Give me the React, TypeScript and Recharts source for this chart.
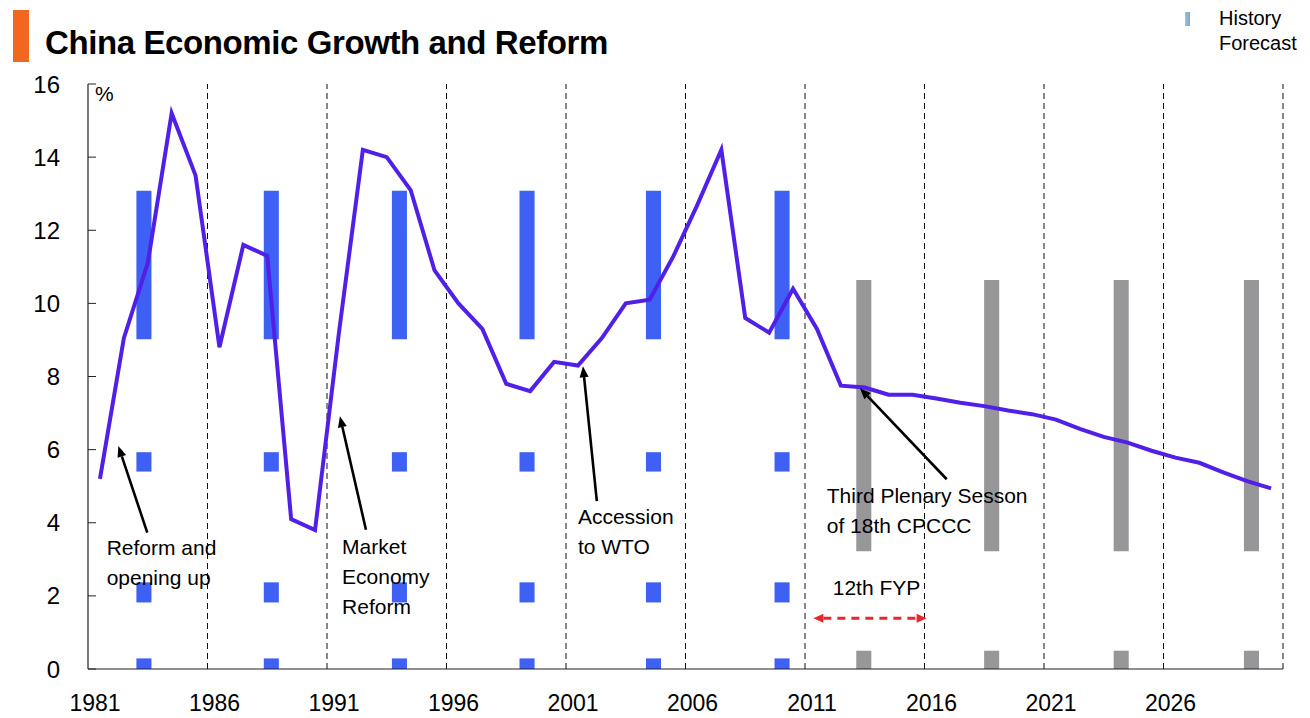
import React from 'react'
import {
  ComposedChart,
  Line,
  XAxis,
  YAxis,
  ReferenceLine,
  ReferenceArea,
  ReferenceDot
} from 'recharts'

// Real GDP growth, % y/y (history to 2013, forecast after)
const years = [
  1981, 1982, 1983, 1984, 1985, 1986, 1987, 1988, 1989, 1990,
  1991, 1992, 1993, 1994, 1995, 1996, 1997, 1998, 1999, 2000,
  2001, 2002, 2003, 2004, 2005, 2006, 2007, 2008, 2009, 2010,
  2011, 2012, 2013, 2014, 2015, 2016, 2017, 2018, 2019, 2020,
  2021, 2022, 2023, 2024, 2025, 2026, 2027, 2028, 2029, 2030
]
const growth = [
  5.2, 9.05, 11.1, 15.2, 13.5, 8.8, 11.6, 11.3, 4.1, 3.8,
  9.2, 14.2, 14.0, 13.1, 10.9, 10.0, 9.3, 7.8, 7.6, 8.4,
  8.3, 9.05, 10.0, 10.1, 11.3, 12.7, 14.2, 9.6, 9.2, 10.4,
  9.3, 7.75, 7.7, 7.5, 7.5, 7.4, 7.28, 7.19, 7.07, 6.97,
  6.82, 6.57, 6.35, 6.19, 5.97, 5.78, 5.64, 5.38, 5.14, 4.94
]

const tickYears = [1981, 1986, 1991, 1996, 2001, 2006, 2011, 2016, 2021, 2026]
const dividerYears = [1986, 1991, 1996, 2001, 2006, 2011, 2016, 2021, 2026, 2031]
const yTicks = [0, 2, 4, 6, 8, 10, 12, 14, 16]

// decorative columns: position on the year axis and the filled pieces of each column
const historyColumns = [1983.34, 1988.67, 1994.03, 1999.37, 2004.66, 2010.04]
const historyPieces = [[0, 0.29], [1.82, 2.37], [5.4, 5.93], [9.02, 13.08]]
const forecastColumns = [2013.46, 2018.81, 2024.23, 2029.68]
const forecastPieces = [[0, 0.5], [3.22, 10.64]]

// annotations
const noteLines = [
  ['Reform and', 'opening up'],
  ['Market', 'Economy', 'Reform'],
  ['Accession', 'to WTO'],
  ['Third Plenary Sesson', 'of 18th CPCCC'],
  ['12th FYP']
]
const noteX = [1981.78, 1991.63, 2001.5, 2011.91, 2012.16]
const noteY = [3.12, 3.15, 3.97, 4.53, 2.02]
const arrowFrom = [[1983.48, 3.73], [1992.63, 3.81], [2002.29, 4.59], [2016.93, 5.19]]
const arrowTo = [[1982.27, 6.1], [1991.54, 6.91], [2001.71, 8.28], [2013.3, 7.68]]
const fypSpan = [2011.35, 2016.09]
const fypLevel = 1.39

const LINE_COLOR = '#5020E8'
const HISTORY_COLOR = '#3E60F4'
const FORECAST_COLOR = '#979699'
const COLUMN_HALF = 0.315

const chartData = years.map((y, i) => ({ x: y + 0.5, gdp: growth[i] }))

const headPoints = (x1: number, y1: number, x2: number, y2: number, len: number, half: number) => {
  const a = Math.atan2(y2 - y1, x2 - x1)
  const bx = x2 - len * Math.cos(a)
  const by = y2 - len * Math.sin(a)
  const px = -Math.sin(a) * half
  const py = Math.cos(a) * half
  return { pts: `${x2},${y2} ${bx + px},${by + py} ${bx - px},${by - py}`, bx, by }
}

const BlackArrow = (props: any) => {
  const { x1, y1, x2, y2 } = props
  const h = headPoints(x1, y1, x2, y2, 11, 4.5)
  return (
    <g>
      <line x1={x1} y1={y1} x2={h.bx} y2={h.by} stroke="#000" strokeWidth={2.6} />
      <polygon points={h.pts} fill="#000" />
    </g>
  )
}

const RedSpan = (props: any) => {
  const { x1, y1, x2, y2 } = props
  const right = headPoints(x1, y1, x2, y2, 10, 4.5)
  const left = headPoints(x2, y2, x1, y1, 10, 4.5)
  return (
    <g>
      <line
        x1={left.bx}
        y1={left.by}
        x2={right.bx}
        y2={right.by}
        stroke="#E8262B"
        strokeWidth={3}
        strokeDasharray="8 6"
      />
      <polygon points={right.pts} fill="#E8262B" />
      <polygon points={left.pts} fill="#E8262B" />
    </g>
  )
}

const noteShape = (lines: string[], size = 21, lh = 30) => (props: any) => (
  <g>
    {lines.map((t, i) => (
      <text key={t} x={props.cx} y={props.cy + i * lh} fontSize={size} fill="#000">
        {t}
      </text>
    ))}
  </g>
)

export default function App() {
  return (
    <div
      style={{
        position: 'absolute',
        left: 0,
        top: 0,
        width: 1310,
        height: 718,
        background: '#fff',
        fontFamily: '"Liberation Sans", Arial, sans-serif'
      }}
    >
      {/* title */}
      <div style={{ position: 'absolute', left: 13, top: 10, width: 16, height: 52, background: '#F2661F' }} />
      <div
        style={{
          position: 'absolute',
          left: 45,
          top: 26,
          fontSize: 33,
          lineHeight: '33px',
          fontWeight: 'bold',
          letterSpacing: -0.4,
          color: '#000',
          whiteSpace: 'nowrap'
        }}
      >
        China Economic Growth and Reform
      </div>

      {/* legend */}
      <div
        style={{
          position: 'absolute',
          left: 1185,
          top: 12,
          width: 5,
          height: 14,
          background: 'linear-gradient(90deg, #9CC2DE, #7EA6C8)'
        }}
      />
      <div style={{ position: 'absolute', left: 1219, top: 8, fontSize: 20, lineHeight: '20px', color: '#000' }}>
        History
      </div>
      <div style={{ position: 'absolute', left: 1219, top: 33, fontSize: 20, lineHeight: '20px', color: '#000' }}>
        Forecast
      </div>

      <div style={{ position: 'absolute', left: 0, top: 0 }}>
        <ComposedChart
          width={1310}
          height={718}
          data={chartData}
          margin={{ top: 84, right: 27, bottom: 0, left: 0 }}
        >
          <XAxis
            dataKey="x"
            type="number"
            domain={[1981, 2031]}
            ticks={tickYears}
            allowDataOverflow
            tickLine={false}
            tickMargin={20}
            height={49}
            axisLine={{ stroke: '#222', strokeWidth: 1.2 }}
            tick={{ fontSize: 23, fill: '#000', dx: 7 }}
          />
          <YAxis
            type="number"
            domain={[0, 16]}
            ticks={yTicks}
            width={88}
            tickSize={-8}
            tickMargin={36}
            axisLine={{ stroke: '#222', strokeWidth: 1.2 }}
            tickLine={{ stroke: '#222' }}
            tick={{ fontSize: 24, fill: '#000' }}
          />

          {dividerYears.map((y) => (
            <ReferenceLine key={'d' + y} x={y} stroke="#111" strokeWidth={1} strokeDasharray="6 4" />
          ))}

          {forecastColumns.map((c) =>
            forecastPieces.map(([lo, hi]) => (
              <ReferenceArea
                key={`f${c}-${lo}`}
                x1={c - COLUMN_HALF}
                x2={c + COLUMN_HALF}
                y1={lo}
                y2={hi}
                fill={FORECAST_COLOR}
                fillOpacity={1}
                stroke="none"
              />
            ))
          )}

          <Line
            type="linear"
            dataKey="gdp"
            stroke={LINE_COLOR}
            strokeWidth={4}
            dot={false}
            activeDot={false}
            isAnimationActive={false}
          />

          {historyColumns.map((c) =>
            historyPieces.map(([lo, hi]) => (
              <ReferenceArea
                key={`h${c}-${lo}`}
                x1={c - COLUMN_HALF}
                x2={c + COLUMN_HALF}
                y1={lo}
                y2={hi}
                fill={HISTORY_COLOR}
                fillOpacity={1}
                stroke="none"
              />
            ))
          )}

          {arrowFrom.map((f, i) => (
            <ReferenceLine
              key={'a' + i}
              segment={[{ x: f[0], y: f[1] }, { x: arrowTo[i][0], y: arrowTo[i][1] }]}
              shape={BlackArrow}
            />
          ))}
          <ReferenceLine
            segment={[{ x: fypSpan[0], y: fypLevel }, { x: fypSpan[1], y: fypLevel }]}
            shape={RedSpan}
          />

          {noteLines.map((lines, i) => (
            <ReferenceDot key={'n' + i} x={noteX[i]} y={noteY[i]} r={1} shape={noteShape(lines)} />
          ))}
          <ReferenceDot x={1981.29} y={15.53} r={1} shape={noteShape(['%'])} />
        </ComposedChart>
      </div>
    </div>
  )
}
